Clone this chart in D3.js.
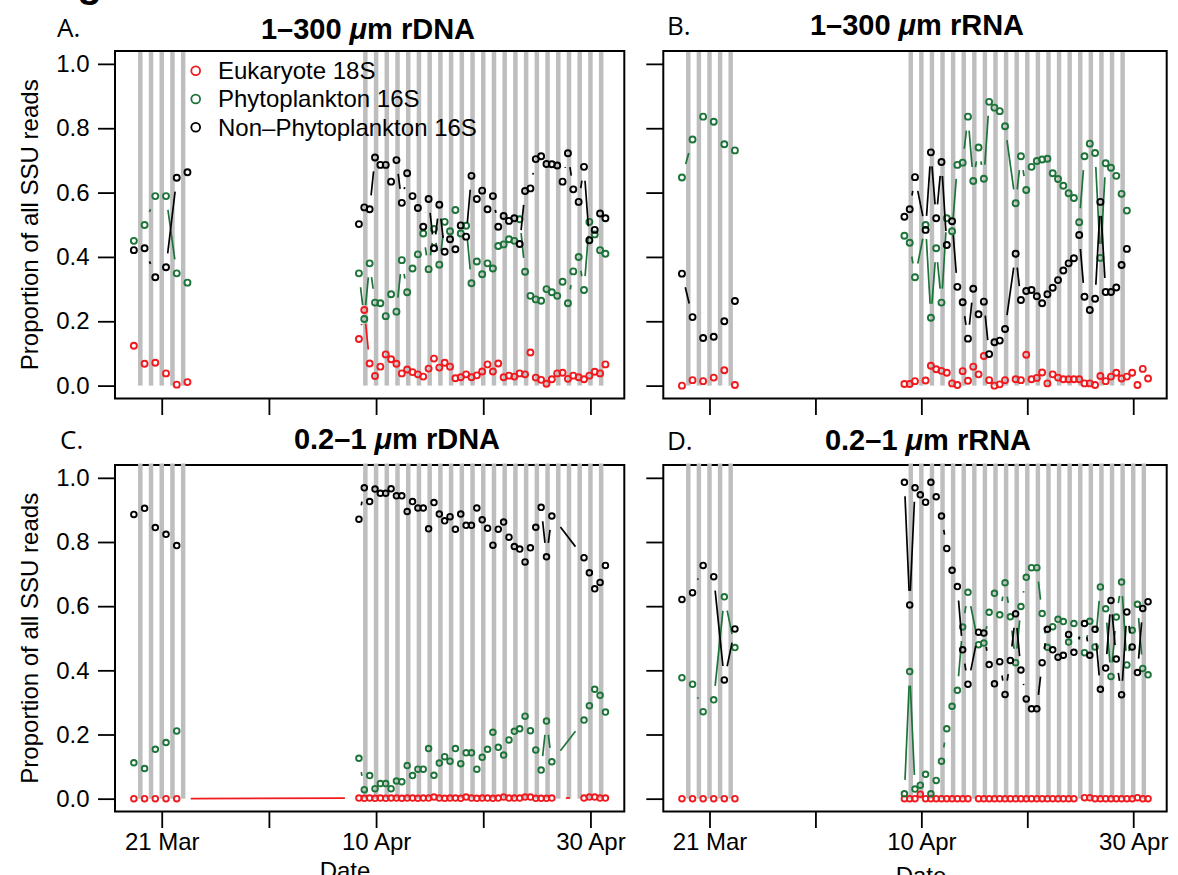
<!DOCTYPE html>
<html>
<head>
<meta charset="utf-8">
<script src="https://cdn.jsdelivr.net/npm/d3@7"></script>
<style>
  body { margin: 0; background: #fff; }
  svg text { font-family: "Liberation Sans", Arial, Helvetica, sans-serif; }
</style>
</head>
<body>
<svg id="fig" width="1178" height="875"></svg>
<script>
// sample times (month-day hour:min)
const marchTimes = ["03-18 09:36", "03-19 09:36", "03-20 09:36", "03-21 09:36", "03-22 09:36", "03-23 09:36"];
const aprilTimes = [
  "04-08 09:36", "04-08 21:36", "04-09 09:36", "04-09 21:36", "04-10 09:36", "04-10 21:36", "04-11 09:36", "04-11 21:36", "04-12 09:36", "04-12 21:36",
  "04-13 09:36", "04-13 21:36", "04-14 09:36", "04-14 21:36", "04-15 09:36", "04-15 21:36", "04-16 09:36", "04-16 21:36", "04-17 09:36", "04-17 21:36",
  "04-18 09:36", "04-18 21:36", "04-19 09:36", "04-19 21:36", "04-20 09:36", "04-20 21:36", "04-21 09:36", "04-21 21:36", "04-22 09:36", "04-22 21:36",
  "04-23 09:36", "04-23 21:36", "04-24 09:36", "04-24 21:36", "04-25 09:36", "04-25 21:36", "04-26 09:36", "04-26 21:36", "04-27 09:36", "04-27 21:36",
  "04-28 09:36", "04-28 21:36", "04-29 09:36", "04-29 21:36", "04-30 09:36", "04-30 21:36", "05-01 09:36"];

// night bars (midnight dates)
const nightsMarch = ["03-19", "03-20", "03-21", "03-22", "03-23"];
const nightsApril = ["04-09", "04-10", "04-11", "04-12", "04-13", "04-14", "04-15", "04-16", "04-17", "04-18", "04-19", "04-20",
  "04-21", "04-22", "04-23", "04-24", "04-25", "04-26", "04-27", "04-28", "04-29", "04-30", "05-01"];

const tickDates = ["03-21", "03-31", "04-10", "04-20", "04-30"];
const tickLabels = ["21 Mar", "", "10 Apr", "", "30 Apr"];
const yTicks = [0, 0.2, 0.4, 0.6, 0.8, 1.0];

const seriesNames = ["Eukaryote 18S", "Phytoplankton 16S", "Non\u2013Phytoplankton 16S"];
const seriesColors = ["#f01a1f", "#1d7439", "#000000"];

// A. 1-300 um rDNA
const aEukMar = [0.124, 0.068, 0.071, 0.038, 0.003, 0.011];
const aPhyMar = [0.450, 0.499, 0.589, 0.589, 0.349, 0.320];
const aNonMar = [0.421, 0.427, 0.337, 0.368, 0.646, 0.663];
const aEukApr = [0.145, 0.235, 0.069, 0.030, 0.059, 0.097, 0.082, 0.068, 0.038, 0.050,
  0.042, 0.035, 0.028, 0.053, 0.084, 0.056, 0.071, 0.059, 0.023, 0.026,
  0.035, 0.026, 0.032, 0.044, 0.066, 0.044, 0.069, 0.026, 0.031, 0.028,
  0.038, 0.035, 0.103, 0.025, 0.018, 0.006, 0.020, 0.038, 0.040, 0.021,
  0.031, 0.026, 0.020, 0.031, 0.043, 0.038, 0.066];
const aPhyApr = [0.349, 0.207, 0.380, 0.258, 0.256, 0.216, 0.284, 0.230, 0.390, 0.290,
  0.364, 0.408, 0.473, 0.362, 0.487, 0.376, 0.509, 0.480, 0.546, 0.473,
  0.497, 0.318, 0.386, 0.346, 0.380, 0.364, 0.434, 0.439, 0.455, 0.450,
  0.517, 0.354, 0.279, 0.268, 0.264, 0.300, 0.290, 0.279, 0.323, 0.256,
  0.355, 0.400, 0.297, 0.509, 0.470, 0.421, 0.410];
const aNonApr = [0.502, 0.554, 0.548, 0.709, 0.686, 0.686, 0.634, 0.701, 0.568, 0.660,
  0.589, 0.552, 0.494, 0.580, 0.427, 0.562, 0.416, 0.455, 0.424, 0.498,
  0.463, 0.652, 0.580, 0.606, 0.548, 0.589, 0.494, 0.527, 0.512, 0.520,
  0.440, 0.605, 0.613, 0.704, 0.713, 0.689, 0.688, 0.684, 0.634, 0.722,
  0.610, 0.571, 0.680, 0.452, 0.484, 0.535, 0.520];

// B. 1-300 um rRNA
const bEukMar = [0.000, 0.017, 0.014, 0.025, 0.048, 0.002];
const bPhyMar = [0.647, 0.765, 0.836, 0.820, 0.750, 0.731];
const bNonMar = [0.348, 0.213, 0.148, 0.152, 0.200, 0.263];
const bEukApr = [0.005, 0.005, 0.014, null, 0.016, 0.062, 0.051, 0.046, 0.040, 0.007,
  0.002, 0.045, 0.015, 0.059, 0.035, 0.092, 0.017, 0.000, 0.004, 0.017,
  null, 0.020, 0.017, 0.096, 0.020, 0.024, 0.041, 0.007, 0.035, 0.025,
  0.020, 0.020, 0.020, 0.020, 0.007, 0.007, 0.002, 0.030, 0.014, 0.028,
  0.040, 0.022, 0.028, 0.040, 0.002, 0.052, 0.022];
const bPhyApr = [0.466, 0.444, 0.337, null, 0.499, 0.211, 0.427, 0.258, 0.520, 0.480,
  0.686, 0.693, 0.836, 0.636, 0.740, 0.643, 0.882, 0.864, 0.853, 0.806,
  null, 0.567, 0.713, 0.608, 0.680, 0.698, 0.703, 0.705, 0.660, 0.642,
  0.621, 0.598, 0.583, 0.508, 0.713, 0.752, 0.723, 0.397, 0.691, 0.677,
  0.652, 0.596, 0.544, null, null, null, null];
const bNonApr = [0.525, 0.548, 0.648, null, 0.484, 0.725, 0.520, 0.695, 0.437, 0.511,
  0.307, 0.259, 0.146, 0.301, 0.222, 0.261, 0.098, 0.135, 0.140, 0.176,
  null, 0.410, 0.266, 0.294, 0.297, 0.278, 0.256, 0.284, 0.304, 0.328,
  0.358, 0.380, 0.396, 0.468, 0.276, 0.235, 0.270, 0.571, 0.291, 0.291,
  0.305, 0.375, 0.425, null, null, null, null];

// C. 0.2-1 um rDNA
const cEukMar = [0, 0, 0, 0, 0, null];
const cPhyMar = [0.112, 0.094, 0.154, 0.175, 0.211, null];
const cNonMar = [0.886, 0.905, 0.845, 0.824, 0.789, null];
const cEukApr = [0.002, 0.001, 0.002, 0.001, 0.002, 0.001, 0.002, 0.002, 0.001, 0.002,
  0.002, 0.001, 0.002, 0.002, 0.005, 0.002, 0.001, 0.002, 0.002, 0.001,
  0.005, 0.002, 0.001, 0.002, 0.002, 0.001, 0.002, 0.005, 0.002, 0.002,
  0.002, 0.005, 0.005, 0.001, 0.001, 0.001, 0.002, null, null, null,
  null, null, 0.002, 0.005, 0.005, 0.002, 0.002];
const cPhyApr = [0.126, 0.028, 0.072, 0.031, 0.047, 0.047, 0.031, 0.055, 0.053, 0.103,
  0.072, 0.092, 0.092, 0.156, 0.073, 0.111, 0.131, 0.117, 0.156, 0.109,
  0.143, 0.143, 0.092, 0.129, 0.154, 0.207, 0.160, 0.136, 0.183, 0.210,
  0.218, 0.257, 0.212, 0.152, 0.089, 0.242, 0.115, null, null, null,
  null, null, 0.245, 0.290, 0.341, 0.322, 0.270];
const cNonApr = [0.871, 0.969, 0.926, 0.965, 0.952, 0.952, 0.966, 0.944, 0.944, 0.895,
  0.926, 0.906, 0.906, 0.841, 0.923, 0.887, 0.866, 0.879, 0.840, 0.887,
  0.852, 0.852, 0.906, 0.869, 0.843, 0.790, 0.840, 0.862, 0.815, 0.786,
  0.778, 0.738, 0.782, 0.846, 0.908, 0.754, 0.881, null, null, null,
  null, null, 0.751, 0.704, 0.654, 0.674, 0.727];

// D. 0.2-1 um rRNA
const dEukMar = [0, 0, 0, 0, 0, 0];
const dPhyMar = [0.377, 0.357, 0.271, 0.308, 0.629, 0.471];
const dNonMar = [0.621, 0.642, 0.727, 0.692, 0.370, 0.529];
const dEukApr = [0.000, 0.000, 0.000, 0.014, 0.000, 0.000, 0.000, 0.000, 0.000, 0.000,
  0.000, 0.000, 0.000, null, 0.000, 0.000, 0.000, 0.000, 0.000, 0.000,
  0.000, 0.000, 0.000, 0.000, 0.000, 0.000, 0.000, 0.000, 0.000, 0.000,
  0.000, 0.000, 0.000, null, 0.003, 0.003, 0.000, 0.000, 0.000, 0.000,
  0.000, 0.000, 0.000, 0.000, 0.003, 0.000, 0.000];
const dPhyApr = [0.015, 0.396, 0.030, 0.042, 0.076, 0.015, 0.057, 0.117, 0.218, 0.288,
  0.338, 0.535, 0.643, null, 0.480, 0.485, 0.581, 0.640, 0.573, 0.673,
  0.567, 0.424, 0.599, 0.690, 0.720, 0.720, 0.577, 0.472, 0.536, 0.559,
  0.552, 0.488, 0.546, null, 0.455, 0.553, 0.473, 0.660, 0.592, 0.381,
  0.566, 0.675, 0.417, 0.525, 0.606, 0.406, 0.386];
const dNonApr = [0.986, 0.604, 0.969, 0.947, 0.924, 0.986, 0.941, 0.881, 0.780, 0.712,
  0.661, 0.464, 0.357, null, 0.519, 0.516, 0.418, 0.358, 0.427, 0.325,
  0.431, 0.576, 0.401, 0.311, 0.280, 0.280, 0.424, 0.528, 0.464, 0.441,
  0.447, 0.512, 0.456, null, 0.546, 0.447, 0.528, 0.341, 0.407, 0.618,
  0.435, 0.324, 0.582, 0.473, 0.393, 0.593, 0.614];

const svg = d3.select("#fig");
const parseT = d3.utcParse("%m-%d %H:%M");
const parseD = d3.utcParse("%m-%d");
const tMar = marchTimes.map(parseT);
const tApr = aprilTimes.map(parseT);

// R style axis range: data range + 4% each side
const tAll = tMar.concat(tApr);
const tMin = d3.min(tAll), tMax = d3.max(tAll);
const pad = (tMax - tMin) * 0.04;
const xDomain = [new Date(+tMin - pad), new Date(+tMax + pad)];
const yDomain = [-0.04, 1.04];

const GAP = 14;          // type="b" gap around points
const HALF_NIGHT = 0.21 * 864e5;

const panels = [
  { letter: "A.", lx: 57, ly: 37, pre: "1\u2013300 ", post: "m rDNA", tx: 368, ty: 39,
    box: [115, 51, 624.3, 398.5], yLab: true, xLab: false, lastNight: "05-01", over: false, legend: true, r: 3.0,
    series: [[aEukMar, aEukApr, false], [aPhyMar, aPhyApr, false], [aNonMar, aNonApr, false]] },
  { letter: "B.", lx: 667, ly: 35, pre: "1\u2013300 ", post: "m rRNA", tx: 917, ty: 35,
    box: [663.3, 51, 1166.7, 398.5], yLab: false, xLab: false, lastNight: "04-29", over: false, legend: false, r: 3.0,
    series: [[bEukMar, bEukApr, false], [bPhyMar, bPhyApr, false], [bNonMar, bNonApr, false]] },
  { letter: "C.", lx: 60, ly: 449, pre: "0.2\u20131 ", post: "m rDNA", tx: 397, ty: 449,
    box: [115, 465, 624.3, 811.5], yLab: true, xLab: true, lastNight: "05-01", over: true, legend: false, r: 2.8,
    dateX: 345, dateY: 879,
    series: [[cEukMar, cEukApr, true], [cPhyMar, cPhyApr, false], [cNonMar, cNonApr, false]] },
  { letter: "D.", lx: 667, ly: 450, pre: "0.2\u20131 ", post: "m rRNA", tx: 928, ty: 450,
    box: [663.3, 465, 1166.7, 811.5], yLab: false, xLab: true, lastNight: "05-01", over: true, legend: false, r: 2.8,
    dateX: 921, dateY: 884,
    series: [[dEukMar, dEukApr, false], [dPhyMar, dPhyApr, false], [dNonMar, dNonApr, false]] }
];

function gapSegments(pts) {
  const segs = [];
  for (let i = 1; i < pts.length; i++) {
    const a = pts[i - 1], b = pts[i];
    const dx = b[0] - a[0], dy = b[1] - a[1], d = Math.hypot(dx, dy);
    if (d > 2 * GAP) {
      const f = GAP / d;
      segs.push([a[0] + f * dx, a[1] + f * dy, b[0] - f * dx, b[1] - f * dy]);
    }
  }
  return segs;
}

function drawPanel(p) {
  const [x0, y0, x1, y1] = p.box;
  const x = d3.scaleUtc().domain(xDomain).range([x0, x1]);
  const y = d3.scaleLinear().domain(yDomain).range([y1, y0]);
  const g = svg.append("g");

  const drawBox = () => g.append("rect")
    .attr("x", x0).attr("y", y0).attr("width", x1 - x0).attr("height", y1 - y0)
    .attr("fill", "none").attr("stroke", "#000").attr("stroke-width", 2);

  if (p.over) drawBox();

  // night bars
  const nights = nightsMarch.concat(nightsApril.slice(0, nightsApril.indexOf(p.lastNight) + 1)).map(parseD);
  const topY = p.over ? y0 - 1.5 : y0;
  g.append("g").selectAll("rect")
    .data(nights)
    .join("rect")
    .attr("x", d => x(new Date(+d - HALF_NIGHT)))
    .attr("width", d => x(new Date(+d + HALF_NIGHT)) - x(new Date(+d - HALF_NIGHT)))
    .attr("y", topY)
    .attr("height", y(0) - topY)
    .attr("fill", "#bebebe");

  if (!p.over) drawBox();

  // axes
  const ya = g.append("g").attr("transform", `translate(${x0},0)`)
    .call(d3.axisLeft(y).tickValues(yTicks).tickSize(17).tickPadding(8.5)
      .tickFormat(p.yLab ? d3.format(".1f") : () => ""));
  const xa = g.append("g").attr("transform", `translate(0,${y1})`)
    .call(d3.axisBottom(x).tickValues(tickDates.map(parseD)).tickSize(16.5).tickPadding(5)
      .tickFormat((d, i) => p.xLab ? tickLabels[i] : ""));
  [ya, xa].forEach(a => {
    a.select(".domain").remove();
    a.selectAll(".tick line").attr("stroke", "#000").attr("stroke-width", 1.8);
    a.selectAll(".tick text").attr("fill", "#000")
      .style("font-family", '"Liberation Sans", Arial, sans-serif').style("font-size", "24px");
  });

  // series: red, green, black
  p.series.forEach(([mar, apr, join], si) => {
    const col = seriesColors[si];
    const mPts = [], aPts = [];
    mar.forEach((v, i) => { if (v !== null) mPts.push([x(tMar[i]), y(v)]); });
    apr.forEach((v, i) => { if (v !== null) aPts.push([x(tApr[i]), y(v)]); });
    const runs = join ? [mPts.concat(aPts)] : [mPts, aPts];
    const segs = runs.flatMap(gapSegments);
    g.append("g").selectAll("line")
      .data(segs)
      .join("line")
      .attr("x1", d => d[0]).attr("y1", d => d[1])
      .attr("x2", d => d[2]).attr("y2", d => d[3])
      .attr("stroke", col).attr("stroke-width", 1.7);
    g.append("g").selectAll("circle")
      .data(mPts.concat(aPts))
      .join("circle")
      .attr("cx", d => d[0]).attr("cy", d => d[1]).attr("r", p.r)
      .attr("fill", "none").attr("stroke", col).attr("stroke-width", 1.9);
  });

  // title
  const t = svg.append("text").attr("x", p.tx).attr("y", p.ty)
    .attr("text-anchor", "middle").attr("font-weight", "bold").attr("font-size", 29);
  t.append("tspan").text(p.pre);
  t.append("tspan").attr("font-style", "italic").text("\u03bc");
  t.append("tspan").text(p.post);

  svg.append("text").attr("x", p.lx).attr("y", p.ly)
    .style("font-family", '"Open Sans", "DejaVu Sans", sans-serif')
    .attr("font-size", 26).text(p.letter);

  if (p.yLab) {
    svg.append("text")
      .attr("transform", `translate(38,${(y0 + y1) / 2}) rotate(-90)`)
      .attr("text-anchor", "middle").attr("font-size", 24)
      .text("Proportion of all SSU reads");
  }
  if (p.xLab) {
    svg.append("text").attr("x", p.dateX).attr("y", p.dateY)
      .attr("text-anchor", "middle").attr("font-size", 24).text("Date");
  }
  if (p.legend) {
    const lg = svg.append("g");
    seriesNames.forEach((name, i) => {
      const ly = 70.7 + i * 28.3;
      lg.append("circle").attr("cx", 195.7).attr("cy", ly).attr("r", 4.4)
        .attr("fill", "none").attr("stroke", seriesColors[i]).attr("stroke-width", 1.8);
      lg.append("text").attr("x", 218).attr("y", ly + 8.3).attr("font-size", 24).text(name);
    });
  }
}

panels.forEach(drawPanel);

// clipped heading at the very top
svg.append("text").attr("x", 42).attr("y", -3).attr("font-size", 40).attr("font-weight", "bold").text("Fig");
</script>
</body>
</html>
